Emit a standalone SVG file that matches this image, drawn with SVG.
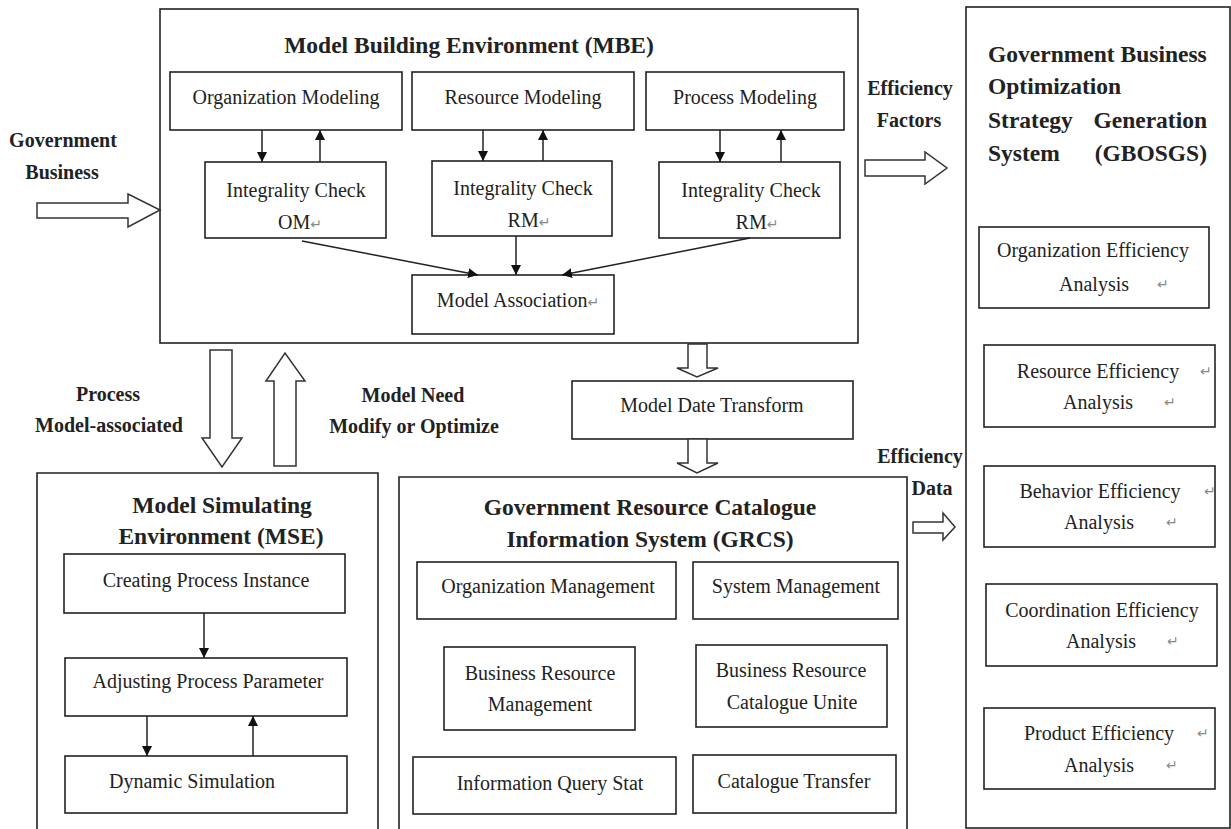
<svg xmlns="http://www.w3.org/2000/svg" width="1231" height="829" viewBox="0 0 1231 829">
  <style>
    .box { fill: #fff; stroke: #222; stroke-width: 1.6; }
    .frame { fill: none; stroke: #222; stroke-width: 1.6; }
    .t { font-family: "Liberation Serif", "Times New Roman", serif; font-size: 20px; fill: #222; }
    .b { font-weight: bold; }
    .title { font-size: 23.5px; }
    .ret { font-family: "DejaVu Sans", sans-serif; font-size: 14px; fill: #888; }
    .blk { fill: #fff; stroke: #333; stroke-width: 1.5; stroke-linejoin: miter; }
    .ln { fill: none; stroke: #222; stroke-width: 1.5; }
  </style>
  <defs>
    <marker id="ah" viewBox="0 0 10 10" refX="10" refY="5" markerWidth="10" markerHeight="10" markerUnits="userSpaceOnUse" orient="auto">
      <path d="M0,0 L10,5 L0,10 Z" fill="#111"/>
    </marker>
  </defs>
  <rect width="1231" height="829" fill="#fff"/>

  <!-- Model Building Environment -->
  <g id="mbe">
    <rect class="frame" x="160" y="9" width="698" height="334"/>
    <text class="t b title" x="469" y="53" text-anchor="middle">Model Building Environment (MBE)</text>
  </g>
  <g id="org-modeling">
    <rect class="box" x="170" y="72" width="232" height="58"/>
    <text class="t" x="286" y="104" text-anchor="middle">Organization Modeling</text>
  </g>
  <g id="res-modeling">
    <rect class="box" x="412" y="72" width="222" height="58"/>
    <text class="t" x="523" y="104" text-anchor="middle">Resource Modeling</text>
  </g>
  <g id="proc-modeling">
    <rect class="box" x="646" y="72" width="198" height="58"/>
    <text class="t" x="745" y="104" text-anchor="middle">Process Modeling</text>
  </g>
  <g id="check-om">
    <rect class="box" x="205" y="162" width="181" height="76"/>
    <text class="t" x="296" y="197" text-anchor="middle">Integrality Check</text>
    <text class="t" x="300" y="229" text-anchor="middle">OM<tspan class="ret">↵</tspan></text>
  </g>
  <g id="check-rm">
    <rect class="box" x="432" y="161" width="180" height="75"/>
    <text class="t" x="523" y="195" text-anchor="middle">Integrality Check</text>
    <text class="t" x="529" y="227" text-anchor="middle">RM<tspan class="ret">↵</tspan></text>
  </g>
  <g id="check-pm">
    <rect class="box" x="659" y="162" width="181" height="76"/>
    <text class="t" x="751" y="197" text-anchor="middle">Integrality Check</text>
    <text class="t" x="757" y="229" text-anchor="middle">RM<tspan class="ret">↵</tspan></text>
  </g>
  <g id="model-association">
    <rect class="box" x="412" y="275" width="202" height="59"/>
    <text class="t" x="518" y="307" text-anchor="middle">Model Association<tspan class="ret">↵</tspan></text>
  </g>

  <!-- External labels -->
  <g id="label-gov-business">
    <text class="t b" x="63" y="147" text-anchor="middle">Government</text>
    <text class="t b" x="62" y="179" text-anchor="middle">Business</text>
  </g>
  <g id="label-eff-factors">
    <text class="t b" x="910" y="95" text-anchor="middle">Efficiency</text>
    <text class="t b" x="909" y="127" text-anchor="middle">Factors</text>
  </g>
  <g id="label-eff-data">
    <text class="t b" x="920" y="463" text-anchor="middle">Efficiency</text>
    <text class="t b" x="932" y="495" text-anchor="middle">Data</text>
  </g>
  <g id="label-process">
    <text class="t b" x="108" y="401" text-anchor="middle">Process</text>
    <text class="t b" x="109" y="432" text-anchor="middle">Model-associated</text>
  </g>
  <g id="label-model-need">
    <text class="t b" x="413" y="402" text-anchor="middle">Model Need</text>
    <text class="t b" x="414" y="433" text-anchor="middle">Modify or Optimize</text>
  </g>

  <!-- Model Data Transform -->
  <g id="model-date-transform">
    <rect class="box" x="572" y="381" width="281" height="58"/>
    <text class="t" x="712" y="412" text-anchor="middle">Model Date Transform</text>
  </g>

  <!-- Model Simulating Environment -->
  <g id="mse">
    <path class="frame" d="M37,835 V473 H378 V835"/>
    <text class="t b title" x="222" y="513" text-anchor="middle">Model Simulating</text>
    <text class="t b title" x="221" y="544" text-anchor="middle">Environment (MSE)</text>
  </g>
  <g id="creating-instance">
    <rect class="box" x="64" y="554" width="281" height="59"/>
    <text class="t" x="206" y="587" text-anchor="middle">Creating Process Instance</text>
  </g>
  <g id="adjusting-parameter">
    <rect class="box" x="65" y="658" width="282" height="58"/>
    <text class="t" x="208" y="688" text-anchor="middle">Adjusting Process Parameter</text>
  </g>
  <g id="dynamic-simulation">
    <rect class="box" x="65" y="756" width="282" height="57"/>
    <text class="t" x="192" y="788" text-anchor="middle">Dynamic Simulation</text>
  </g>

  <!-- Government Resource Catalogue Information System -->
  <g id="grcs">
    <path class="frame" d="M399,835 V477 H907 V835"/>
    <text class="t b title" x="650" y="515" text-anchor="middle">Government Resource Catalogue</text>
    <text class="t b title" x="650" y="547" text-anchor="middle">Information System (GRCS)</text>
  </g>
  <g id="org-management">
    <rect class="box" x="417" y="562" width="259" height="57"/>
    <text class="t" x="548" y="593" text-anchor="middle">Organization Management</text>
  </g>
  <g id="sys-management">
    <rect class="box" x="693" y="562" width="205" height="57"/>
    <text class="t" x="796" y="593" text-anchor="middle">System Management</text>
  </g>
  <g id="bus-res-management">
    <rect class="box" x="444" y="647" width="191" height="83"/>
    <text class="t" x="540" y="680" text-anchor="middle">Business Resource</text>
    <text class="t" x="540" y="711" text-anchor="middle">Management</text>
  </g>
  <g id="bus-res-catalogue">
    <rect class="box" x="696" y="645" width="191" height="82"/>
    <text class="t" x="791" y="677" text-anchor="middle">Business Resource</text>
    <text class="t" x="792" y="709" text-anchor="middle">Catalogue Unite</text>
  </g>
  <g id="info-query">
    <rect class="box" x="413" y="757" width="263" height="57"/>
    <text class="t" x="550" y="790" text-anchor="middle">Information Query Stat</text>
  </g>
  <g id="catalogue-transfer">
    <rect class="box" x="693" y="755" width="203" height="58"/>
    <text class="t" x="794" y="788" text-anchor="middle">Catalogue Transfer</text>
  </g>

  <!-- Optimization Strategy Generation System -->
  <g id="gbosgs">
    <rect class="frame" x="966" y="7" width="264" height="821"/>
    <text class="t b title" x="988" y="62">Government Business</text>
    <text class="t b title" x="988" y="94">Optimization</text>
    <text class="t b title" x="988" y="128">Strategy</text>
    <text class="t b title" x="1207" y="128" text-anchor="end">Generation</text>
    <text class="t b title" x="988" y="161">System</text>
    <text class="t b title" x="1207" y="161" text-anchor="end">(GBOSGS)</text>
  </g>
  <g id="org-efficiency">
    <rect class="box" x="979" y="227" width="230" height="81"/>
    <text class="t" x="1093" y="257" text-anchor="middle">Organization Efficiency</text>
    <text class="t" x="1094" y="291" text-anchor="middle">Analysis</text>
    <text class="ret" x="1157" y="289">↵</text>
  </g>
  <g id="res-efficiency">
    <rect class="box" x="984" y="345" width="231" height="82"/>
    <text class="t" x="1098" y="378" text-anchor="middle">Resource Efficiency</text>
    <text class="ret" x="1200" y="376">↵</text>
    <text class="t" x="1098" y="409" text-anchor="middle">Analysis</text>
    <text class="ret" x="1164" y="407">↵</text>
  </g>
  <g id="beh-efficiency">
    <rect class="box" x="984" y="466" width="231" height="81"/>
    <text class="t" x="1100" y="498" text-anchor="middle">Behavior Efficiency</text>
    <text class="ret" x="1204" y="496">↵</text>
    <text class="t" x="1099" y="529" text-anchor="middle">Analysis</text>
    <text class="ret" x="1166" y="527">↵</text>
  </g>
  <g id="coord-efficiency">
    <rect class="box" x="986" y="584" width="231" height="82"/>
    <text class="t" x="1102" y="617" text-anchor="middle">Coordination Efficiency</text>
    <text class="t" x="1101" y="648" text-anchor="middle">Analysis</text>
    <text class="ret" x="1167" y="646">↵</text>
  </g>
  <g id="prod-efficiency">
    <rect class="box" x="984" y="708" width="231" height="81"/>
    <text class="t" x="1099" y="740" text-anchor="middle">Product Efficiency</text>
    <text class="ret" x="1197" y="738">↵</text>
    <text class="t" x="1099" y="772" text-anchor="middle">Analysis</text>
    <text class="ret" x="1166" y="770">↵</text>
  </g>

  <!-- Connectors -->
  <g id="connectors">
    <!-- modeling <-> integrality check -->
    <line class="ln" x1="262" y1="130" x2="262" y2="162" marker-end="url(#ah)"/>
    <line class="ln" x1="320" y1="162" x2="320" y2="130" marker-end="url(#ah)"/>
    <line class="ln" x1="483" y1="130" x2="483" y2="161" marker-end="url(#ah)"/>
    <line class="ln" x1="543" y1="161" x2="543" y2="130" marker-end="url(#ah)"/>
    <line class="ln" x1="720" y1="130" x2="720" y2="162" marker-end="url(#ah)"/>
    <line class="ln" x1="781" y1="162" x2="781" y2="130" marker-end="url(#ah)"/>
    <!-- integrality checks -> model association -->
    <line class="ln" x1="302" y1="241" x2="478" y2="275" marker-end="url(#ah)"/>
    <line class="ln" x1="516" y1="236" x2="516" y2="275" marker-end="url(#ah)"/>
    <line class="ln" x1="750" y1="238" x2="562" y2="275" marker-end="url(#ah)"/>
    <!-- simulation flow -->
    <line class="ln" x1="204" y1="613" x2="204" y2="658" marker-end="url(#ah)"/>
    <line class="ln" x1="147" y1="716" x2="147" y2="756" marker-end="url(#ah)"/>
    <line class="ln" x1="253" y1="756" x2="253" y2="716" marker-end="url(#ah)"/>
    <!-- hollow block arrows -->
    <polygon class="blk" points="37,203 128,203 128,194 160,210 128,227 128,218 37,218"/>
    <polygon class="blk" points="865,160 925,160 925,152 947,168 925,184 925,176 865,176"/>
    <polygon class="blk" points="913,522 943,522 943,513 955,527 943,540 943,533 913,533"/>
    <polygon class="blk" points="210,350 232,350 232,438 242,438 222,467 202,438 210,438"/>
    <polygon class="blk" points="274,466 296,466 296,381 305,381 285,353 266,381 274,381"/>
    <polygon class="blk" points="688,344 707,344 707,368 718,368 697,377 677,368 688,368"/>
    <polygon class="blk" points="688,439 707,439 707,463 718,463 697,473 677,463 688,463"/>
  </g>
</svg>
